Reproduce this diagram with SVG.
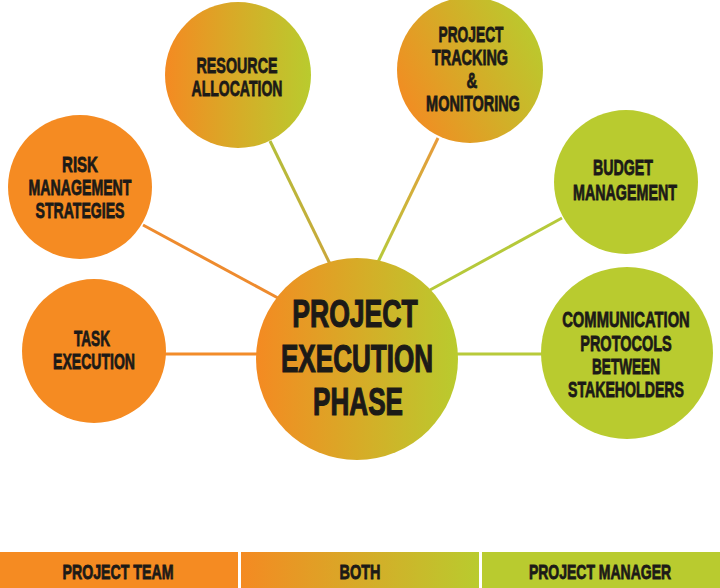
<svg xmlns="http://www.w3.org/2000/svg" width="720" height="588" viewBox="0 0 720 588">
<defs>
<linearGradient id="gH" x1="0" y1="0" x2="1" y2="0">
<stop offset="0" stop-color="#F48A22"/>
<stop offset="0.45" stop-color="#D9A927"/>
<stop offset="1" stop-color="#B9CB2E"/>
</linearGradient>
<linearGradient id="gC" x1="0" y1="0" x2="1" y2="0">
<stop offset="0" stop-color="#F48A22"/>
<stop offset="0.5" stop-color="#D7AB27"/>
<stop offset="1" stop-color="#B9CB2E"/>
</linearGradient>
<linearGradient id="gT" x1="0" y1="0.75" x2="1" y2="0.25">
<stop offset="0" stop-color="#F48A22"/>
<stop offset="0.55" stop-color="#D2AF28"/>
<stop offset="1" stop-color="#B9CB2E"/>
</linearGradient>
<linearGradient id="gB" x1="0" y1="0" x2="1" y2="0">
<stop offset="0" stop-color="#F48A22"/>
<stop offset="1" stop-color="#B9CB2E"/>
</linearGradient>
<linearGradient id="lR" gradientUnits="userSpaceOnUse" x1="270" y1="141" x2="327" y2="258">
<stop offset="0" stop-color="#B4BE3A"/>
<stop offset="1" stop-color="#C9A83A"/>
</linearGradient>
<linearGradient id="lT" gradientUnits="userSpaceOnUse" x1="438" y1="138" x2="380" y2="258">
<stop offset="0" stop-color="#E89A3A"/>
<stop offset="1" stop-color="#B8C83A"/>
</linearGradient>
</defs>
<style>
.t{font-family:"Liberation Sans","DejaVu Sans",Arial,sans-serif;font-weight:bold;fill:#1c1a17;stroke:#1c1a17;stroke-width:0.8;text-anchor:middle;}
.s{font-size:22px;}
.c{font-size:38px;stroke-width:1.2;}
.b{font-size:20px;}
.ln{fill:none;stroke-width:3;}
.or{fill:#F58B22;}
.gr{fill:#B9CB2F;}
</style>
<rect width="720" height="588" fill="#FFFFFF"/>
<g id="connectors">
<line class="ln" x1="270" y1="141" x2="330" y2="264" stroke="url(#lR)"/>
<line class="ln" x1="143" y1="225" x2="278" y2="298" stroke="#EE8B2E"/>
<line class="ln" x1="438" y1="138" x2="378" y2="262" stroke="url(#lT)"/>
<line class="ln" x1="562" y1="218" x2="430" y2="290" stroke="#B6C93A"/>
<line class="ln" x1="160" y1="354" x2="262" y2="354" stroke="#F28C2A"/>
<line class="ln" x1="452" y1="354" x2="546" y2="354" stroke="#B8CA3A"/>
</g>
<g id="resource-allocation">
<circle cx="238" cy="75" r="73" fill="url(#gH)"/>
<text class="t s" transform="translate(237,73) scale(0.65,1)">RESOURCE</text>
<text class="t s" transform="translate(237,96) scale(0.638,1)">ALLOCATION</text>
</g>
<g id="project-tracking">
<circle cx="470" cy="70" r="73" fill="url(#gT)"/>
<text class="t s" transform="translate(471,42) scale(0.626,1)">PROJECT</text>
<text class="t s" transform="translate(470,65) scale(0.655,1)">TRACKING</text>
<text class="t s" transform="translate(472,88) scale(0.68,1)">&amp;</text>
<text class="t s" transform="translate(473,111) scale(0.658,1)">MONITORING</text>
</g>
<g id="risk-management">
<circle class="or" cx="80" cy="187" r="72"/>
<text class="t s" transform="translate(80,172) scale(0.685,1)">RISK</text>
<text class="t s" transform="translate(80,195) scale(0.643,1)">MANAGEMENT</text>
<text class="t s" transform="translate(80,218) scale(0.64,1)">STRATEGIES</text>
</g>
<g id="budget-management">
<circle class="gr" cx="626" cy="182" r="72"/>
<text class="t s" transform="translate(623,175) scale(0.646,1)">BUDGET</text>
<text class="t s" transform="translate(625,200) scale(0.65,1)">MANAGEMENT</text>
</g>
<g id="task-execution">
<circle class="or" cx="94" cy="351" r="72"/>
<text class="t s" transform="translate(92,346) scale(0.618,1)">TASK</text>
<text class="t s" transform="translate(94,369) scale(0.639,1)">EXECUTION</text>
</g>
<g id="communication-protocols">
<circle class="gr" cx="627" cy="353" r="86"/>
<text class="t s" transform="translate(626,327) scale(0.671,1)">COMMUNICATION</text>
<text class="t s" transform="translate(626,351) scale(0.66,1)">PROTOCOLS</text>
<text class="t s" transform="translate(626,374) scale(0.618,1)">BETWEEN</text>
<text class="t s" transform="translate(626,397) scale(0.643,1)">STAKEHOLDERS</text>
</g>
<g id="project-execution-phase">
<circle cx="357" cy="359" r="101" fill="url(#gC)"/>
<text class="t c" transform="translate(355,327) scale(0.70,1)">PROJECT</text>
<text class="t c" transform="translate(357,372) scale(0.686,1)">EXECUTION</text>
<text class="t c" transform="translate(358,415) scale(0.687,1)">PHASE</text>
</g>
<g id="legend-project-team">
<rect class="or" x="0" y="552" width="238" height="36"/>
<text class="t b" transform="translate(118,579) scale(0.708,1)">PROJECT TEAM</text>
</g>
<g id="legend-both">
<rect x="241" y="552" width="238" height="36" fill="url(#gB)"/>
<text class="t b" transform="translate(360,579) scale(0.723,1)">BOTH</text>
</g>
<g id="legend-project-manager">
<rect class="gr" x="482" y="552" width="238" height="36"/>
<text class="t b" transform="translate(600,579) scale(0.70,1)">PROJECT MANAGER</text>
</g>
</svg>
